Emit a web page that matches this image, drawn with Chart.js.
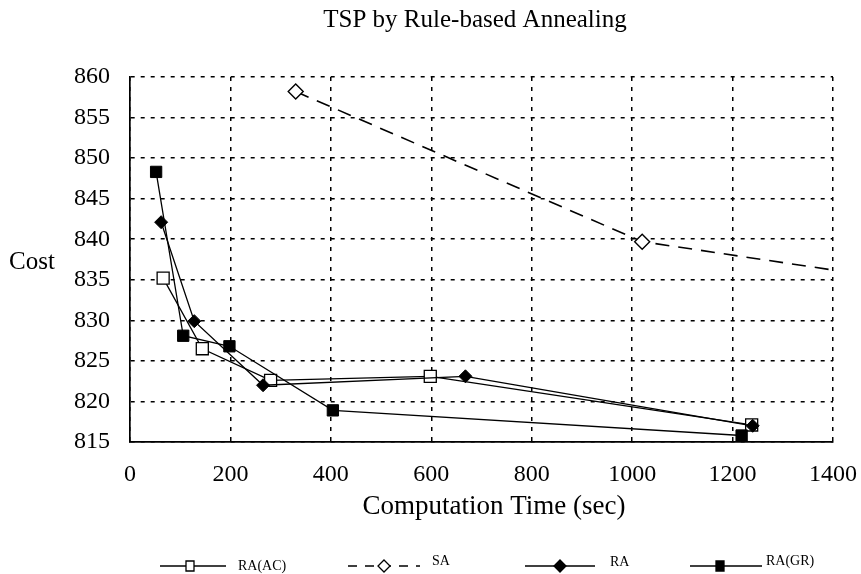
<!DOCTYPE html>
<html>
<head>
<meta charset="utf-8">
<script src="https://cdn.jsdelivr.net/npm/chart.js@4.4.0/dist/chart.umd.min.js"></script>
<style>
html,body{margin:0;padding:0;background:#fff;}
#wrap{width:861px;height:574px;position:relative;}
</style>
</head>
<body>
<div id="wrap"><canvas id="c" width="861" height="574"></canvas></div>
<script>
const chartTitle = "TSP by Rule-based Annealing";
const xAxisTitle = "Computation Time (sec)";
const yAxisTitle = "Cost";
const xTicks = [0, 200, 400, 600, 800, 1000, 1200, 1400];
const yTicks = [815, 820, 825, 830, 835, 840, 845, 850, 855, 860];
const seriesNames = ["RA(AC)", "SA", "RA", "RA(GR)"];

const raacX = [66, 144, 280, 598, 1238];
const raacY = [835.2, 826.5, 822.6, 823.1, 817.1];
const saX = [330, 1020, 1400];
const saY = [858.2, 839.7, 836.2];
const raX = [62, 128, 265, 668, 1240];
const raY = [842.1, 829.9, 822.0, 823.1, 817.0];
const ragrX = [52, 106, 198, 404, 1218];
const ragrY = [848.3, 828.1, 826.8, 818.9, 815.8];

function pts(xs, ys) { return xs.map((x, i) => ({x: x, y: ys[i]})); }

const SERIF = "'Liberation Serif', 'DejaVu Serif', serif";

const datasets = [
  { label: seriesNames[0], data: pts(raacX, raacY), borderColor: '#000', borderWidth: 1.3,
    pointStyle: 'rect', pointRadius: 8.5, pointBackgroundColor: '#fff', pointBorderColor: '#000', pointBorderWidth: 1.3, order: 1 },
  { label: seriesNames[1], data: pts(saX, saY), borderColor: '#000', borderWidth: 1.6, borderDash: [14, 9],
    pointStyle: 'rectRot', pointRadius: saX.map((x, i) => i === saX.length - 1 ? 0 : 7.5), pointBackgroundColor: '#fff', pointBorderColor: '#000', pointBorderWidth: 1.4, order: 2 },
  { label: seriesNames[2], data: pts(raX, raY), borderColor: '#000', borderWidth: 1.3,
    pointStyle: 'rectRot', pointRadius: 6.5, pointBackgroundColor: '#000', pointBorderColor: '#000', pointBorderWidth: 1, order: 0 },
  { label: seriesNames[3], data: pts(ragrX, ragrY), borderColor: '#000', borderWidth: 1.3,
    pointStyle: 'rect', pointRadius: 8, pointBackgroundColor: '#000', pointBorderColor: '#000', pointBorderWidth: 1, order: 0 }
];

const textPlugin = {
  id: 'texts',
  afterDraw(chart) {
    const ctx = chart.ctx;
    ctx.save();
    ctx.fillStyle = '#000';
    ctx.textBaseline = 'middle';
    ctx.textAlign = 'center';
    ctx.font = "25px " + SERIF;
    ctx.fillText(chartTitle, 475, 20);
    ctx.font = "27px " + SERIF;
    ctx.fillText(xAxisTitle, 494, 507);
    ctx.font = "25px " + SERIF;
    ctx.textAlign = 'left';
    ctx.fillText(yAxisTitle, 9, 262);

    // legend
    const items = [
      {x: 160, w: 66, m: 190, tx: 238, name: seriesNames[0], ds: 0, dy: 0},
      {x: 348, w: 72, m: 384, tx: 432, name: seriesNames[1], ds: 1, dy: -5},
      {x: 525, w: 70, m: 560, tx: 610, name: seriesNames[2], ds: 2, dy: -4},
      {x: 690, w: 72, m: 720, tx: 766, name: seriesNames[3], ds: 3, dy: -5}
    ];
    const ly = 566;
    items.forEach(it => {
      const ds = chart.data.datasets[it.ds];
      ctx.save();
      ctx.strokeStyle = '#000';
      ctx.lineWidth = 1.3;
      ctx.setLineDash(it.ds === 1 ? [9, 8] : []);
      ctx.beginPath();
      ctx.moveTo(it.x, ly);
      ctx.lineTo(it.x + it.w, ly);
      ctx.stroke();
      ctx.setLineDash([]);
      const cx = it.m;
      ctx.fillStyle = ds.pointBackgroundColor;
      ctx.lineWidth = 1.3;
      ctx.beginPath();
      if (ds.pointStyle === 'rect') {
        ctx.rect(cx - 4, ly - 5, 8, 10);
      } else {
        ctx.moveTo(cx, ly - 6); ctx.lineTo(cx + 6, ly); ctx.lineTo(cx, ly + 6); ctx.lineTo(cx - 6, ly); ctx.closePath();
      }
      ctx.fill();
      ctx.stroke();
      ctx.restore();
      ctx.font = "14px " + SERIF;
      ctx.textAlign = 'left';
      ctx.fillText(it.name, it.tx, ly + it.dy);
    });
    ctx.restore();
  }
};

new Chart(document.getElementById('c'), {
  type: 'scatter',
  data: { datasets: datasets },
  options: {
    responsive: false,
    animation: false,
    showLine: true,
    layout: { padding: { left: 0, top: 77, right: 28, bottom: 0 } },
    plugins: { legend: { display: false }, title: { display: false }, tooltip: { enabled: false } },
    elements: { line: { tension: 0, fill: false } },
    scales: {
      x: {
        type: 'linear', min: 0, max: 1400,
        afterBuildTicks(s) { s.ticks = xTicks.map(v => ({value: v})); },
        afterFit(s) { s.height = 132; s.paddingLeft = 0; s.paddingRight = 0; },
        ticks: { color: '#000', font: { family: SERIF, size: 24 }, padding: 18, maxRotation: 0, callback: v => String(v) },
        grid: { color: '#000', lineWidth: 1.5, drawTicks: false },
        border: { display: true, color: '#000', width: 1.7, dash: [4, 6] }
      },
      y: {
        type: 'linear', min: 815, max: 860,
        afterBuildTicks(s) { s.ticks = yTicks.map(v => ({value: v})); },
        afterFit(s) { s.width = 130; s.paddingTop = 0; s.paddingBottom = 0; },
        ticks: { color: '#000', font: { family: SERIF, size: 24 }, padding: 20, callback: v => String(v) },
        grid: { color: '#000', lineWidth: 1.5, drawTicks: false },
        border: { display: true, color: '#000', width: 1.7, dash: [4, 6] }
      }
    }
  },
  plugins: [textPlugin]
});
</script>
</body>
</html>
